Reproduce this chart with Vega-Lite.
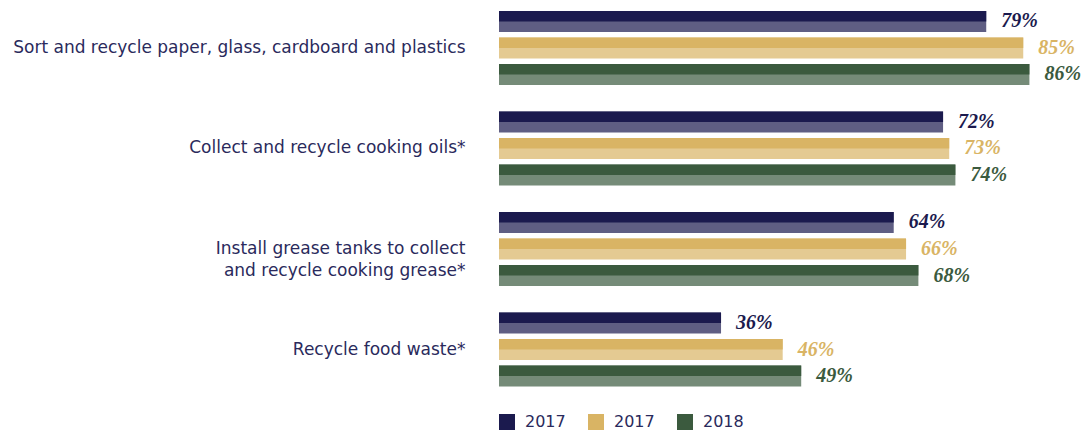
{
  "$schema": "https://vega.github.io/schema/vega-lite/v6.json",
  "width": 589,
  "height": 397.5,
  "padding": {"left": 12, "top": 0, "right": 0, "bottom": 0},
  "background": "white",
  "config": {"view": {"stroke": null}},
  "data": {
    "values": [
      {"category": "Sort and recycle paper, glass, cardboard and plastics", "series": "a", "value": 0.79},
      {"category": "Sort and recycle paper, glass, cardboard and plastics", "series": "b", "value": 0.85},
      {"category": "Sort and recycle paper, glass, cardboard and plastics", "series": "c", "value": 0.86},
      {"category": "Collect and recycle cooking oils*", "series": "a", "value": 0.72},
      {"category": "Collect and recycle cooking oils*", "series": "b", "value": 0.73},
      {"category": "Collect and recycle cooking oils*", "series": "c", "value": 0.74},
      {"category": "Install grease tanks to collect|and recycle cooking grease*", "series": "a", "value": 0.64},
      {"category": "Install grease tanks to collect|and recycle cooking grease*", "series": "b", "value": 0.66},
      {"category": "Install grease tanks to collect|and recycle cooking grease*", "series": "c", "value": 0.68},
      {"category": "Recycle food waste*", "series": "a", "value": 0.36},
      {"category": "Recycle food waste*", "series": "b", "value": 0.46},
      {"category": "Recycle food waste*", "series": "c", "value": 0.49}
    ]
  },
  "encoding": {
    "y": {
      "field": "category",
      "type": "nominal",
      "sort": null,
      "scale": {"paddingInner": 0.264, "paddingOuter": 0.109},
      "axis": {
        "title": null,
        "domain": false,
        "ticks": false,
        "labelPadding": 34,
        "labelFont": "DejaVu Sans",
        "labelFontSize": 17,
        "labelColor": "#2a2a5c",
        "labelLimit": 600,
        "labelLineHeight": 22,
        "labelExpr": "split(datum.label, '|')"
      }
    },
    "x": {
      "field": "value",
      "type": "quantitative",
      "scale": {"domain": [0, 0.955]},
      "axis": null
    },
    "color": {
      "field": "series",
      "type": "nominal",
      "scale": {"domain": ["a", "b", "c"], "range": ["#1b1a4e", "#d9b464", "#3b5a3e"]},
      "legend": {
        "title": null,
        "orient": "bottom",
        "direction": "horizontal",
        "symbolType": "square",
        "symbolSize": 256,
        "symbolOpacity": 1,
        "symbolStrokeWidth": 0,
        "labelFont": "DejaVu Sans",
        "labelFontSize": 16,
        "labelColor": "#2a2a5c",
        "columnPadding": 22,
        "labelOffset": 10,
        "offset": 16,
        "labelExpr": "datum.label == 'c' ? '2018' : '2017'"
      }
    }
  },
  "layer": [
    {
      "mark": {"type": "bar", "opacity": 0.7},
      "encoding": {
        "yOffset": {"field": "series", "type": "nominal", "scale": {"paddingInner": 0.211, "paddingOuter": 0, "align": 0}}
      }
    },
    {
      "mark": {"type": "bar", "opacity": 1},
      "encoding": {
        "yOffset": {"field": "series", "type": "nominal", "scale": {"paddingInner": 0.606, "paddingOuter": 0.199, "align": 0}}
      }
    },
    {
      "mark": {"type": "text", "align": "left", "baseline": "middle", "dx": 15, "font": "Liberation Serif", "fontSize": 20, "fontWeight": "bold", "fontStyle": "italic"},
      "encoding": {
        "yOffset": {"field": "series", "type": "nominal", "scale": {"type": "point", "padding": 0.394}},
        "text": {"field": "value", "type": "quantitative", "format": ".0%"}
      }
    }
  ],
  "resolve": {"scale": {"yOffset": "independent"}}
}
